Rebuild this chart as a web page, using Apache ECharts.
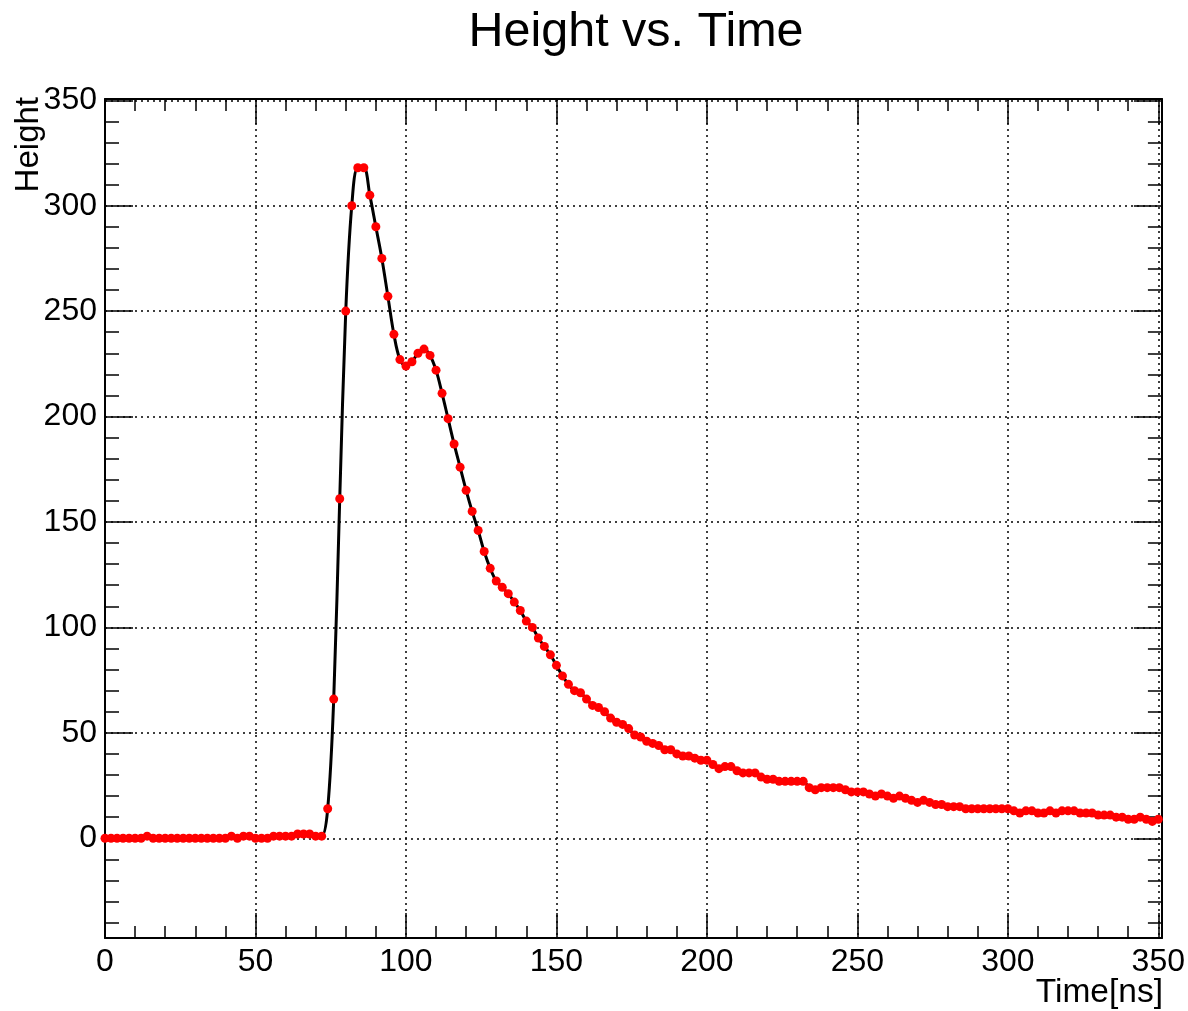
<!DOCTYPE html>
<html>
<head>
<meta charset="utf-8">
<script src="https://cdn.jsdelivr.net/npm/echarts@6/dist/echarts.min.js"></script>
<style>
html,body{margin:0;padding:0;background:#fff;}
#chart{width:1188px;height:1011px;}
</style>
</head>
<body>
<div id="chart"></div>
<script>
const titleText = 'Height vs. Time';
const xTitle = 'Time[ns]';
const yTitle = 'Height';

const times = [
  0,2,4,6,8,10,12,14,16,18,20,22,24,26,28,30,32,34,36,38,
  40,42,44,46,48,50,52,54,56,58,60,62,64,66,68,70,72,74,76,78,
  80,82,84,86,88,90,92,94,96,98,100,102,104,106,108,110,112,114,116,118,
  120,122,124,126,128,130,132,134,136,138,140,142,144,146,148,150,152,154,156,158,
  160,162,164,166,168,170,172,174,176,178,180,182,184,186,188,190,192,194,196,198,
  200,202,204,206,208,210,212,214,216,218,220,222,224,226,228,230,232,234,236,238,
  240,242,244,246,248,250,252,254,256,258,260,262,264,266,268,270,272,274,276,278,
  280,282,284,286,288,290,292,294,296,298,300,302,304,306,308,310,312,314,316,318,
  320,322,324,326,328,330,332,334,336,338,340,342,344,346,348,350
];
const heights = [
  0,0,0,0,0,0,0,1,0,0,0,0,0,0,0,0,0,0,0,0,
  0,1,0,1,1,0,0,0,1,1,1,1,2,2,2,1,1,14,66,161,
  250,300,318,318,305,290,275,257,239,227,224,226,230,232,229,222,211,199,187,176,
  165,155,146,136,128,122,119,116,112,108,103,100,95,91,87,82,77,73,70,69,
  66,63,62,60,57,55,54,52,49,48,46,45,44,42,42,40,39,39,38,37,
  37,35,33,34,34,32,31,31,31,29,28,28,27,27,27,27,27,24,23,24,
  24,24,24,23,22,22,22,21,20,21,20,19,20,19,18,17,18,17,16,16,
  15,15,15,14,14,14,14,14,14,14,14,13,12,13,13,12,12,13,12,13,
  13,13,12,12,12,11,11,11,10,10,9,9,10,9,8,9
];

const xRange = [0, 351.2];
const yRange = [-47.3, 350.6];
const majorStep = 50;

const FONT = '"Liberation Sans", Arial, Helvetica, sans-serif';
const points = times.map((t, i) => [t, heights[i]]);
const isMajor = v => Math.abs(v / majorStep - Math.round(v / majorStep)) < 1e-6;

const gridStyle = { show: true, lineStyle: { color: '#000', width: 1.5, type: [2, 4] } };
const axisLineStyle = { show: true, onZero: false, lineStyle: { color: '#000', width: 2 } };

function xAx(pos, withLabels) {
  return {
    type: 'value', position: pos, min: xRange[0], max: xRange[1],
    minInterval: majorStep, maxInterval: majorStep, splitNumber: 7,
    axisLine: axisLineStyle,
    axisTick: { show: true, inside: true, length: 25, lineStyle: { color: '#000', width: 1.5 } },
    minorTick: { show: true, splitNumber: 5, length: 12, lineStyle: { color: '#000', width: 1.5 } },
    splitLine: withLabels ? gridStyle : { show: false },
    axisLabel: withLabels ? {
      show: true, color: '#000', fontSize: 32, fontFamily: FONT, margin: 8,
      formatter: v => isMajor(v) ? String(Math.round(v)) : ''
    } : { show: false }
  };
}
function yAx(pos, withLabels) {
  return {
    type: 'value', position: pos, min: yRange[0], max: yRange[1],
    minInterval: majorStep, maxInterval: majorStep, splitNumber: 8,
    axisLine: axisLineStyle,
    axisTick: { show: true, inside: true, length: 28, lineStyle: { color: '#000', width: 1.5 } },
    minorTick: { show: true, splitNumber: 5, length: 14, lineStyle: { color: '#000', width: 1.5 } },
    splitLine: withLabels ? gridStyle : { show: false },
    axisLabel: withLabels ? {
      show: true, color: '#000', fontSize: 32, fontFamily: FONT, margin: 8,
      formatter: v => isMajor(v) ? String(Math.round(v)) : ''
    } : { show: false }
  };
}

const chart = echarts.init(document.getElementById('chart'), null, { renderer: 'canvas' });
chart.setOption({
  animation: false,
  backgroundColor: '#fff',
  title: {
    text: titleText, left: 631, top: 3, textAlign: 'center',
    textStyle: { fontSize: 48.5, fontWeight: 'normal', color: '#000', fontFamily: FONT }
  },
  grid: { left: 105, right: 25, top: 99, bottom: 73 },
  xAxis: [xAx('bottom', true), xAx('top', false)],
  yAxis: [yAx('left', true), yAx('right', false)],
  graphic: [
    { type: 'text', x: 29, y: 97, rotation: Math.PI / 2,
      style: { text: yTitle, textAlign: 'right', textVerticalAlign: 'middle', fontSize: 33, fontFamily: FONT, fill: '#000' } },
    { type: 'text', x: 1163, y: 993,
      style: { text: xTitle, textAlign: 'right', textVerticalAlign: 'middle', fontSize: 33.5, fontFamily: FONT, fill: '#000' } }
  ],
  series: [{
    type: 'line', xAxisIndex: 0, yAxisIndex: 0, data: points,
    smooth: 0.35, showSymbol: true, showAllSymbol: true,
    symbol: 'circle', symbolSize: 9,
    lineStyle: { color: '#000', width: 3 },
    itemStyle: { color: '#ff0000', borderWidth: 0 },
    z: 5
  }]
});
</script>
</body>
</html>
